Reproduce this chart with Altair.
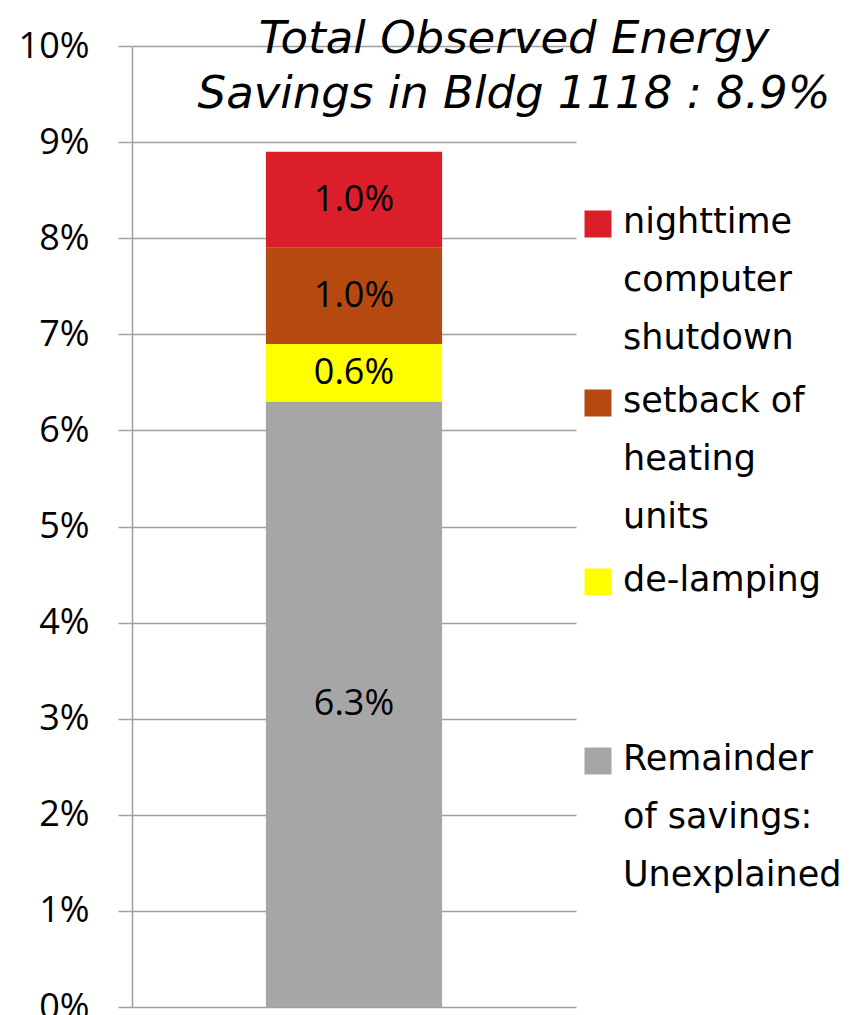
import altair as alt
import pandas as pd

building = ["Bldg 1118"]
categories = [
    "Remainder of savings: Unexplained",
    "de-lamping",
    "setback of heating units",
    "nighttime computer shutdown",
]
legend_labels = [
    "Remainder\nof savings:\nUnexplained",
    "de-lamping",
    "setback of\nheating\nunits",
    "nighttime\ncomputer\nshutdown",
]
values = [6.3, 0.6, 1.0, 1.0]
colors = ["#A6A6A6", "#FFFF00", "#B5490F", "#DA1F2B"]
y_ticks = [0, 1, 2, 3, 4, 5, 6, 7, 8, 9, 10]
title_lines = ["Total Observed Energy", "Savings in Bldg 1118 : 8.9%"]

df = pd.DataFrame({
    "bldg": building * len(categories),
    "component": categories,
    "legend": legend_labels,
    "value": values,
    "order": list(range(len(categories))),
})

GRID = "#A0A0A0"
color_scale = alt.Scale(domain=categories, range=colors)
y_scale = alt.Scale(domain=[0, 10], nice=False)
x_enc = alt.X("bldg:N", axis=None, scale=alt.Scale(paddingInner=0, paddingOuter=0.76))

base = alt.Chart(df).transform_stack(
    stack="value", groupby=["bldg"], as_=["v0", "v1"],
    sort=[alt.SortField("order", order="ascending")]
).transform_calculate(
    mid="(datum.v0 + datum.v1) / 2",
    lab="format(datum.value, '.1f') + '%'",
)

bars = base.mark_bar().encode(
    x=x_enc,
    y=alt.Y("v0:Q", scale=y_scale, axis=alt.Axis(
        values=y_ticks, labelExpr="datum.value + '%'", title=None,
        grid=True, gridColor=GRID, gridWidth=1.5,
        domainColor=GRID, domainWidth=1.5,
        tickColor=GRID, tickWidth=1.5, tickSize=14,
        labelFont="Open Sans", labelFontSize=36, labelColor="black",
        labelPadding=29,
    )),
    y2="v1:Q",
    color=alt.Color("component:N", scale=color_scale, legend=None),
)

labels = base.mark_text(font="Open Sans", fontSize=36, color="black").encode(
    x=x_enc,
    y=alt.Y("mid:Q", scale=y_scale, axis=None),
    text="lab:N",
)

leg_y = alt.Y("component:N", sort=list(reversed(categories)),
              scale=alt.Scale(type="point", range=[178, 715], padding=0), axis=None)

leg_sq = alt.Chart(df).mark_square(size=729, opacity=1).encode(
    x=alt.value(466),
    y=leg_y,
    color=alt.Color("component:N", scale=color_scale, legend=None),
)

leg_tx = alt.Chart(df).mark_text(
    align="left", baseline="top", dy=-19, font="DejaVu Sans", fontSize=35,
    lineHeight=58, lineBreak="\n", color="black",
).encode(
    x=alt.value(491),
    y=leg_y,
    text="legend:N",
)

chart = alt.layer(bars, labels, leg_sq, leg_tx).resolve_scale(
    y="independent"
).properties(
    width=444,
    height=961,
    padding={"left": 124, "top": 38, "right": 280, "bottom": 8},
    autosize=alt.AutoSizeParams(type="none"),
    title=alt.TitleParams(
        text=title_lines, font="DejaVu Sans", fontStyle="italic", fontSize=45,
        fontWeight="normal", color="black", anchor="middle", frame="group",
        orient="top", offset=0, dx=160, dy=89, lineHeight=55, baseline="top",
    ),
).configure_view(strokeWidth=0)

chart.save("out.html", embed_options={"renderer": "svg", "actions": False})
